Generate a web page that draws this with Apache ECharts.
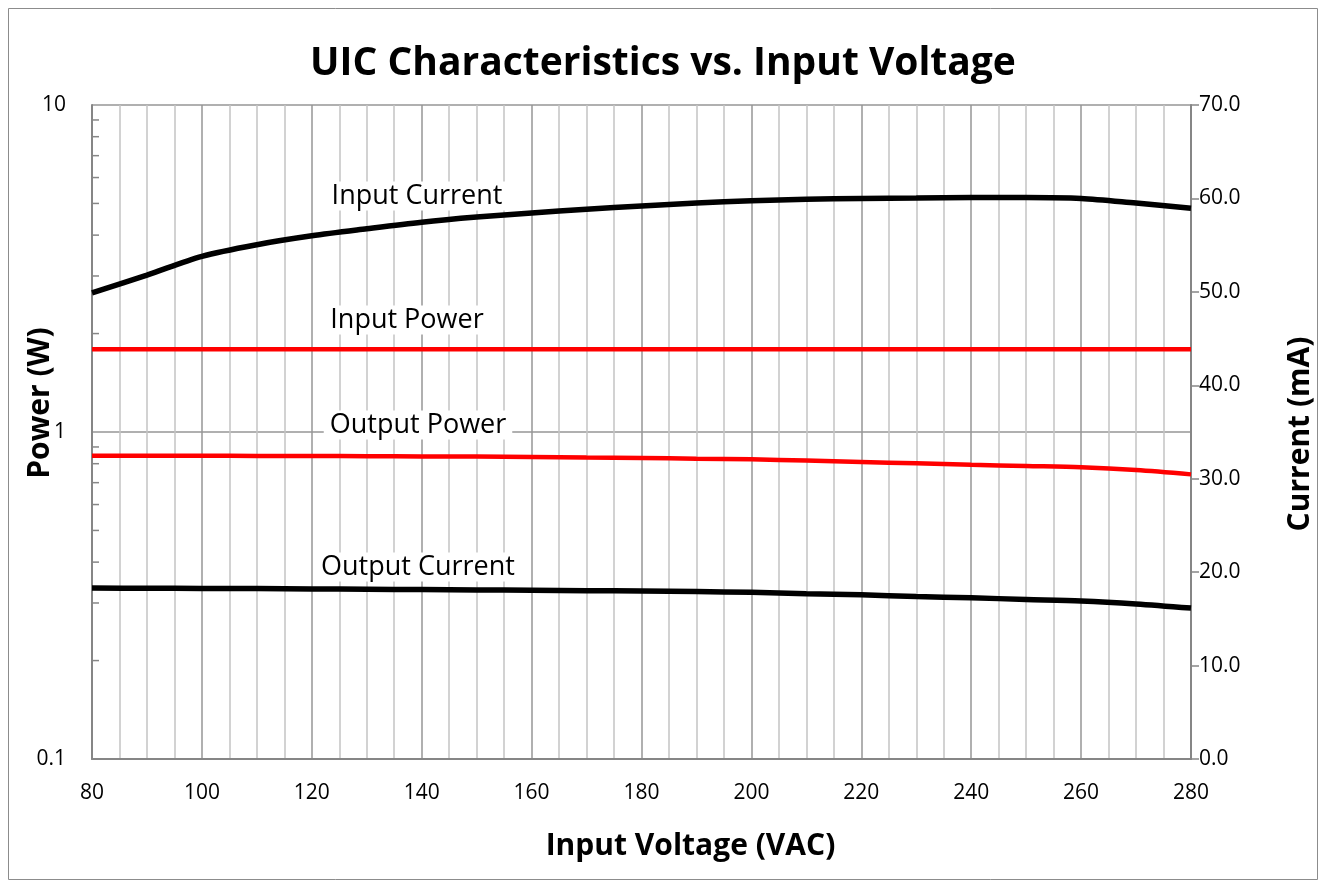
<!DOCTYPE html>
<html>
<head>
<meta charset="utf-8">
<script src="https://cdn.jsdelivr.net/npm/echarts@6/dist/echarts.min.js"></script>
<style>html,body{margin:0;padding:0;background:#fff}#c{width:1326px;height:888px}</style>
</head>
<body>
<div id="c"></div>
<script>
var voltage = [80,90,100,110,120,130,140,150,160,170,180,190,200,210,220,230,240,250,260,270,280];
var inputCurrent = [49.9,51.8,53.8,55.05,56.0,56.75,57.45,58.0,58.45,58.85,59.2,59.5,59.75,59.9,60.0,60.05,60.1,60.1,60.0,59.5,58.95];
var inputPower = [1.79,1.79,1.79,1.79,1.79,1.79,1.79,1.79,1.79,1.79,1.79,1.79,1.79,1.79,1.79,1.79,1.79,1.79,1.79,1.79,1.79];
var outputPower = [0.846,0.846,0.846,0.845,0.845,0.843,0.842,0.841,0.839,0.836,0.833,0.829,0.825,0.818,0.81,0.802,0.794,0.787,0.78,0.765,0.742];
var outputCurrent = [18.3,18.28,18.26,18.24,18.2,18.17,18.14,18.1,18.06,18.02,17.98,17.92,17.84,17.7,17.57,17.4,17.25,17.08,16.92,16.6,16.15];
var logMinorTicks = [0.2,0.3,0.4,0.5,0.6,0.7,0.8,0.9,2,3,4,5,6,7,8,9];
var labels = [
  {text:'Input Current', x:417, y:196},
  {text:'Input Power', x:407, y:320},
  {text:'Output Power', x:418, y:425},
  {text:'Output Current', x:418, y:567}
];
var leftTitle = 'Power (W)';
var rightTitle = 'Current (mA)';

function pairs(arr){ return voltage.map(function(v,i){ return [v, arr[i]]; }); }

var FONT = '"Open Sans", sans-serif';
var chart = echarts.init(document.getElementById('c'), null, {renderer:'canvas'});

var graphics = [{
  type:'rect', shape:{x:8.5,y:8.5,width:1309,height:871}, style:{fill:'none',stroke:'#8c8c8c',lineWidth:1}, z:-1, silent:true
},{
  type:'text', x:40, y:403, rotation:Math.PI/2, z:5,
  style:{text:leftTitle, font:'bold 30px "Open Sans", sans-serif', fill:'#000', align:'center', verticalAlign:'middle'}
},{
  type:'text', x:1300, y:434, rotation:Math.PI/2, z:5,
  style:{text:rightTitle, font:'bold 30px "Open Sans", sans-serif', fill:'#000', align:'center', verticalAlign:'middle'}
}];
labels.forEach(function(l){
  graphics.push({
    type:'text', x:l.x, y:l.y, z:1,
    style:{text:l.text, font:'27px "Open Sans", sans-serif', fill:'#000', align:'center', verticalAlign:'middle',
      backgroundColor:'#fff', padding:[1,6,1,6]}
  });
});

chart.setOption({
  animation:false,
  backgroundColor:'#fff',
  title:{text:'UIC Characteristics vs. Input Voltage', left:'center', top:39,
    textStyle:{fontFamily:FONT, fontSize:39, fontWeight:'bold', color:'#000'}},
  grid:{left:92, right:135, top:105, bottom:129, containLabel:false, outerBoundsMode:'none'},
  graphic: graphics,
  xAxis:{type:'value', min:80, max:280, interval:20,
    name:'Input Voltage (VAC)', nameLocation:'middle', nameGap:72,
    nameTextStyle:{fontFamily:FONT, fontSize:30, fontWeight:'bold', color:'#000', padding:[0,0,0,98]},
    axisLine:{show:true, onZero:false, lineStyle:{color:'#868686', width:2}},
    axisTick:{show:false},
    axisLabel:{fontFamily:FONT, fontSize:21, color:'#000', margin:24},
    splitLine:{show:true, lineStyle:{color:'#969696', width:1.5}},
    minorTick:{show:false, splitNumber:4},
    minorSplitLine:{show:true, lineStyle:{color:'#c4c4c4', width:1.5}}
  },
  yAxis:[{
    type:'log', logBase:10, min:0.1, max:10, position:'left',
    axisLine:{show:true, lineStyle:{color:'#868686', width:2}},
    axisTick:{show:false},
    axisLabel:{fontFamily:FONT, fontSize:21, color:'#000', margin:26, formatter:function(v){ return String(+v.toPrecision(3)); }},
    splitLine:{show:true, lineStyle:{color:'#969696', width:1.5}}
  },{
    type:'value', min:0, max:70, interval:10, position:'right',
    axisLine:{show:true, lineStyle:{color:'#868686', width:2}},
    axisTick:{show:true, inside:false, length:8, lineStyle:{color:'#868686', width:1.5}},
    axisLabel:{fontFamily:FONT, fontSize:21, color:'#000', margin:8, formatter:function(v){ return v.toFixed(1); }},
    splitLine:{show:false}
  }],
  series:[
    {type:'custom', yAxisIndex:0, silent:true, z:1,
      data: logMinorTicks.map(function(v){ return [80, v]; }),
      renderItem:function(params, api){
        var p = api.coord([api.value(0), api.value(1)]);
        return {type:'line', shape:{x1:p[0], y1:p[1], x2:p[0]+7, y2:p[1]}, style:{stroke:'#868686', lineWidth:1.5}};
      }},
    {name:'Input Current', type:'line', yAxisIndex:1, data:pairs(inputCurrent), smooth:0.3, showSymbol:false,
      lineStyle:{color:'#000', width:5.5}, z:3},
    {name:'Input Power', type:'line', yAxisIndex:0, data:pairs(inputPower), smooth:0.3, showSymbol:false,
      lineStyle:{color:'#ff0000', width:4.5}, z:3},
    {name:'Output Power', type:'line', yAxisIndex:0, data:pairs(outputPower), smooth:0.3, showSymbol:false,
      lineStyle:{color:'#ff0000', width:4.5}, z:3},
    {name:'Output Current', type:'line', yAxisIndex:1, data:pairs(outputCurrent), smooth:0.3, showSymbol:false,
      lineStyle:{color:'#000', width:5.5}, z:3}
  ]
});
</script>
</body>
</html>
